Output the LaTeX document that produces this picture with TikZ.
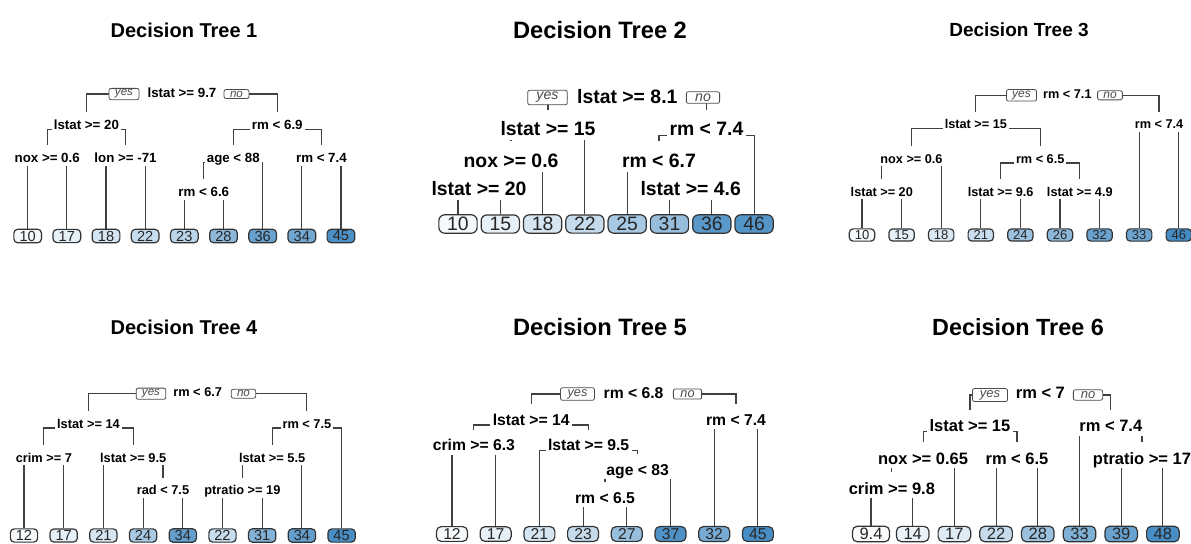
\documentclass[tikz,border=0pt]{standalone}
\usepackage{fontspec}
\setmainfont{Liberation Sans}
\definecolor{treeblue}{RGB}{47,126,188}
\pgfdeclarelayer{lines}
\pgfsetlayers{lines,main}
\tikzset{
  split/.style={font=\bfseries,fill=white,anchor=base,inner xsep=.15em,inner ysep=0pt,
    execute at begin node={\rule[-.25em]{0pt}{1.55em}}},
  yesno/.style={draw=black!70,fill=white,text=black!70,rounded corners=1pt,
    inner xsep=.45em,inner ysep=.1em,font=\fontsize{\ysz}{\ysz}\selectfont\itshape},
  leaf/.style={draw=black!80,line width=.6pt,fill=treeblue!#1!white,text=black!85,
    rounded corners=.3em,inner xsep=.43em,inner ysep=.12em,font=\fontsize{\lsz}{\lsz}\selectfont},
  branch/.style={draw=black!75,line width=.55pt},
}
\begin{document}
\begin{tikzpicture}[x=.5pt,y=-.5pt]
\useasboundingbox (0,0) rectangle (1191,543);
% tree 1
\begin{scope}
\fontsize{6.65}{8}\selectfont\def\ysz{5.8}\def\lsz{7.3}
\node[font=\fontsize{10}{12}\selectfont\bfseries] (t1) at (184,30) {Decision Tree 1};
\node[split] (t1s0) at (182,97.5) {lstat >= 9.7};
\node[yesno] (t1y) at (124,94) {yes};
\node[yesno] (t1n) at (236.5,94) {no};
\node[split] (t1s1) at (86.4,129.8) {lstat >= 20};
\node[split] (t1s2) at (277.3,129.8) {rm < 6.9};
\node[split] (t1s3) at (47.2,162.5) {nox >= 0.6};
\node[split] (t1s4) at (125.5,162.5) {lon >= -71};
\node[split] (t1s5) at (233.3,162.5) {age < 88};
\node[split] (t1s6) at (321.4,162.5) {rm < 7.4};
\node[split] (t1s7) at (203.8,196.5) {rm < 6.6};
\foreach \val/\pct [count=\i] in {10/5,17/12,18/20,22/27,23/33,28/55,36/72,34/68,45/86}
  \node[leaf=\pct] (t1l\i) at ({27.7+39.16*(\i-1)},236) {\val};
\begin{pgfonlayer}{lines}
\draw[branch] (t1y) -| (t1s1);
\draw[branch] (t1n) -| (t1s2);
\foreach \a/\b in {s1/s3,s1/s4,s2/s5,s2/s6,s5/s7,s3/l1,s3/l2,s4/l3,s4/l4,s7/l5,s7/l6,s5/l7,s6/l8,s6/l9}
  \draw[branch] (t1\a.base) -| (t1\b);
\end{pgfonlayer}
\end{scope}
% tree 2
\begin{scope}
\fontsize{9.7}{11}\selectfont\def\ysz{7.1}\def\lsz{9.7}
\node[font=\fontsize{11.85}{14}\selectfont\bfseries] (t2) at (600,30) {Decision Tree 2};
\node[split] (t2s0) at (627.3,103) {lstat >= 8.1};
\node[yesno] (t2y) at (547.5,97.5) {yes};
\node[yesno] (t2n) at (703,97.5) {no};
\node[split] (t2s1) at (548,135.3) {lstat >= 15};
\node[split] (t2s2) at (706.5,135.3) {rm < 7.4};
\node[split] (t2s3) at (511,167) {nox >= 0.6};
\node[split] (t2s4) at (659,167) {rm < 6.7};
\node[split] (t2s5) at (479,195.3) {lstat >= 20};
\node[split] (t2s6) at (690.7,195.3) {lstat >= 4.6};
\foreach \val/\pct [count=\i] in {10/5,15/12,18/20,22/28,25/42,31/50,36/80,46/82}
  \node[leaf=\pct] (t2l\i) at ({458+42.3*(\i-1)},224) {\val};
\begin{pgfonlayer}{lines}
\draw[branch] (t2y) -| (t2s1);
\draw[branch] (t2n) -| (t2s2);
\foreach \a/\b in {s1/s3,s1/l4,s3/s5,s3/l3,s5/l1,s5/l2,s2/s4,s2/l8,s4/l5,s4/s6,s6/l6,s6/l7}
  \draw[branch] (t2\a.base) -| (t2\b);
\end{pgfonlayer}
\end{scope}
% tree 3
\begin{scope}
\fontsize{6.35}{8}\selectfont\def\ysz{6}\def\lsz{6.5}
\node[font=\fontsize{9.5}{11}\selectfont\bfseries] (t3) at (1019,30) {Decision Tree 3};
\node[split] (t3s0) at (1067.4,98) {rm < 7.1};
\node[yesno] (t3y) at (1021.5,95.3) {yes};
\node[yesno] (t3n) at (1110,95.3) {no};
\node[split] (t3s1) at (975.9,128.9) {lstat >= 15};
\node[split] (t3s2) at (1159,128.9) {rm < 7.4};
\node[split] (t3s3) at (911.5,163) {nox >= 0.6};
\node[split] (t3s4) at (1040.2,163) {rm < 6.5};
\node[split] (t3s5) at (881.8,196.3) {lstat >= 20};
\node[split] (t3s6) at (1000.6,196.3) {lstat >= 9.6};
\node[split] (t3s7) at (1079.8,196.3) {lstat >= 4.9};
\foreach \val/\pct [count=\i] in {10/5,15/12,18/18,21/26,24/48,26/55,32/72,33/70,46/90}
  \node[leaf=\pct] (t3l\i) at ({862+39.6*(\i-1)},235) {\val};
\begin{pgfonlayer}{lines}
\draw[branch] (t3y) -| (t3s1);
\draw[branch] (t3n) -| (t3s2);
\foreach \a/\b in {s1/s3,s1/s4,s3/s5,s3/l3,s5/l1,s5/l2,s4/s6,s4/s7,s6/l4,s6/l5,s7/l6,s7/l7,s2/l8,s2/l9}
  \draw[branch] (t3\a.base) -| (t3\b);
\end{pgfonlayer}
\end{scope}
% tree 4
\begin{scope}
\fontsize{6.4}{8}\selectfont\def\ysz{5.8}\def\lsz{7.3}
\node[font=\fontsize{10}{12}\selectfont\bfseries] (t4) at (184,327) {Decision Tree 4};
\node[split] (t4s0) at (197.7,396.3) {rm < 6.7};
\node[yesno] (t4y) at (151,393.7) {yes};
\node[yesno] (t4n) at (243.5,393.7) {no};
\node[split] (t4s1) at (88.5,428) {lstat >= 14};
\node[split] (t4s2) at (306.9,428) {rm < 7.5};
\node[split] (t4s3) at (43.9,462) {crim >= 7};
\node[split] (t4s4) at (133.2,462) {lstat >= 9.5};
\node[split] (t4s5) at (272.1,462) {lstat >= 5.5};
\node[split] (t4s6) at (163,494.6) {rad < 7.5};
\node[split] (t4s7) at (242.4,494.6) {ptratio >= 19};
\foreach \val/\pct [count=\i] in {12/5,17/12,21/20,24/42,34/75,22/27,31/60,34/75,45/88}
  \node[leaf=\pct] (t4l\i) at ({24+39.7*(\i-1)},535.5) {\val};
\begin{pgfonlayer}{lines}
\draw[branch] (t4y) -| (t4s1);
\draw[branch] (t4n) -| (t4s2);
\foreach \a/\b in {s1/s3,s1/s4,s3/l1,s3/l2,s4/l3,s4/s6,s6/l4,s6/l5,s2/s5,s2/l9,s5/s7,s5/l8,s7/l6,s7/l7}
  \draw[branch] (t4\a.base) -| (t4\b);
\end{pgfonlayer}
\end{scope}
% tree 5
\begin{scope}
\fontsize{7.85}{9}\selectfont\def\ysz{6.35}\def\lsz{7.85}
\node[font=\fontsize{11.85}{14}\selectfont\bfseries] (t5) at (600,327) {Decision Tree 5};
\node[split] (t5s0) at (633.6,398) {rm < 6.8};
\node[yesno] (t5y) at (577.5,394) {yes};
\node[yesno] (t5n) at (687.5,394) {no};
\node[split] (t5s1) at (531.2,425) {lstat >= 14};
\node[split] (t5s2) at (736,425) {rm < 7.4};
\node[split] (t5s3) at (473.9,450.7) {crim >= 6.3};
\node[split] (t5s4) at (588.6,450.7) {lstat >= 9.5};
\node[split] (t5s5) at (637.7,475) {age < 83};
\node[split] (t5s6) at (605,503) {rm < 6.5};
\foreach \val/\pct [count=\i] in {12/5,17/12,21/20,23/28,27/50,37/85,32/65,45/88}
  \node[leaf=\pct] (t5l\i) at ({452+43.7*(\i-1)},534) {\val};
\begin{pgfonlayer}{lines}
\draw[branch] (t5y) -| (t5s1);
\draw[branch] (t5n) -| (t5s2);
\foreach \a/\b in {s1/s3,s1/s4,s3/l1,s3/l2,s4/l3,s4/s5,s5/s6,s5/l6,s6/l4,s6/l5,s2/l7,s2/l8}
  \draw[branch] (t5\a.base) -| (t5\b);
\end{pgfonlayer}
\end{scope}
% tree 6
\begin{scope}
\fontsize{8.25}{10}\selectfont\def\ysz{6.5}\def\lsz{8.25}
\node[font=\fontsize{11.7}{14}\selectfont\bfseries] (t6) at (1018,327) {Decision Tree 6};
\node[split] (t6s0) at (1040.4,398.2) {rm < 7};
\node[yesno] (t6y) at (990,395) {yes};
\node[yesno] (t6n) at (1088,395) {no};
\node[split] (t6s1) at (970,431.6) {lstat >= 15};
\node[split] (t6s2) at (1110.8,431.6) {rm < 7.4};
\node[split] (t6s3) at (923.1,464.2) {nox >= 0.65};
\node[split] (t6s4) at (1017,464.2) {rm < 6.5};
\node[split] (t6s5) at (891.9,494.2) {crim >= 9.8};
\node[split] (t6s6) at (1142,464.2) {ptratio >= 17};
\foreach \val/\pct [count=\i] in {9.4/3,14/10,17/16,22/28,28/48,33/62,39/72,48/88}
  \node[leaf=\pct] (t6l\i) at ({871+41.7*(\i-1)},534) {\val};
\begin{pgfonlayer}{lines}
\draw[branch] (t6y) -| (t6s1);
\draw[branch] (t6n) -| (t6s2);
\foreach \a/\b in {s1/s3,s1/s4,s3/s5,s3/l3,s5/l1,s5/l2,s4/l4,s4/l5,s2/l6,s2/s6,s6/l7,s6/l8}
  \draw[branch] (t6\a.base) -| (t6\b);
\end{pgfonlayer}
\end{scope}
\end{tikzpicture}
\end{document}
